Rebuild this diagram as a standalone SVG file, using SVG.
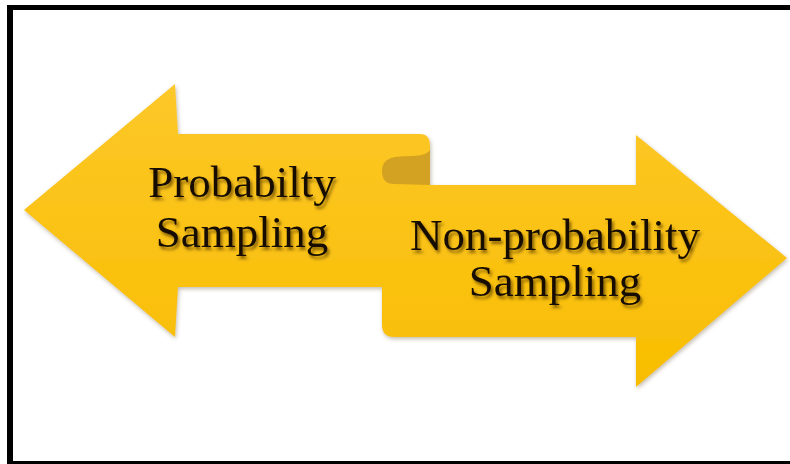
<svg xmlns="http://www.w3.org/2000/svg" width="790" height="464" viewBox="0 0 790 464">
<defs>
<linearGradient id="gold" gradientUnits="userSpaceOnUse" x1="0" y1="84" x2="0" y2="387">
<stop offset="0" stop-color="#FDC82A"/>
<stop offset="1" stop-color="#F8BD00"/>
</linearGradient>
<filter id="sh" x="-10%" y="-10%" width="120%" height="130%">
<feDropShadow dx="1" dy="2" stdDeviation="2" flood-color="#7a6a50" flood-opacity="0.45"/>
</filter>
<filter id="tsh" x="-10%" y="-20%" width="120%" height="150%">
<feDropShadow dx="2" dy="3" stdDeviation="1.6" flood-color="#6b4a00" flood-opacity="0.8"/>
</filter>
<style>
.arr{fill:url(#gold);filter:url(#sh);}
.lbl{font-family:"Liberation Serif","Times New Roman",serif;font-size:45px;fill:#120c00;text-anchor:middle;filter:url(#tsh);}
</style>
</defs>
<rect width="790" height="464" fill="#fff"/>
<g id="frame" fill="#000">
<rect x="7" y="5" width="783" height="5"/>
<rect x="7" y="5" width="6" height="459"/>
<rect x="7" y="461" width="783" height="3"/>
</g>
<g id="double-arrow">
<path class="arr" d="M24,210 L175,84 L178,134 L420,134 Q430,134 430,146 L430,185 L636,185 L636,135 L787,258 L636,387 L636,337 L394,337 Q382,337 382,325 L382,287 L178,287 L175,337 Z"/>
<path d="M430,150 C424,158 410,155 395,157 Q382,159 382,171 Q382,184 394,184 L430,185 Z" fill="#D3A223"/>
</g>
<g id="connectors"/>
<g id="left-label">
<text class="lbl" x="242" y="197">Probabilty</text>
<text class="lbl" x="242" y="247">Sampling</text>
</g>
<g id="right-label">
<text class="lbl" x="555" y="250">Non-probability</text>
<text class="lbl" x="555" y="296">Sampling</text>
</g>
</svg>
